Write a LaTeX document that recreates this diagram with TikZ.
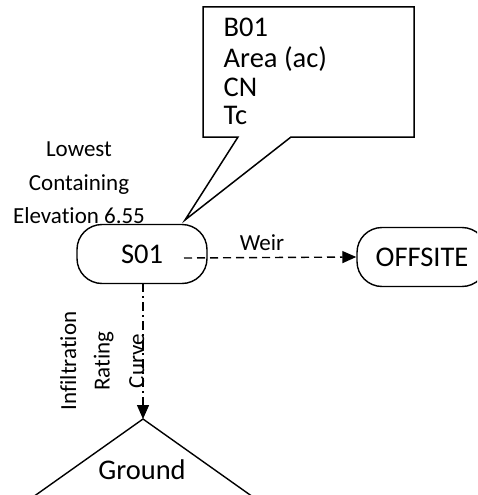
\documentclass[tikz,border=0pt]{standalone}
\usepackage{fontspec}
\setmainfont{Carlito}[Ligatures={NoCommon,NoRequired,NoContextual}]
\usetikzlibrary{arrows.meta}
\begin{document}
\begin{tikzpicture}[x=1pt,y=-1pt,
  line width=1.4pt,
  bigtxt/.style={font=\fontsize{28.5}{34}\selectfont},
  smalltxt/.style={font=\fontsize{23}{28}\selectfont},
  roundbox/.style={draw,rounded corners=25pt,minimum width=130pt,minimum height=59pt,inner sep=0pt,bigtxt},
  tip/.style={-{Triangle[length=14pt,width=12pt]}},
  weirline/.style={tip,dash pattern=on 8pt off 5pt},
  infline/.style={tip,dash pattern=on 9pt off 4pt on 2pt off 4pt}
]
\useasboundingbox (0,0) rectangle (477,495);
\begin{scope}
\clip (0,0) rectangle (477,495);
% callout
\draw[line width=1.5pt] (203,7) -- (414,7) -- (414,137) -- (291,137) -- (185,220) -- (238,137) -- (203,137) -- cycle;
\node[bigtxt,anchor=base west,inner sep=0pt] (b1) at (223,37) {B01};
\node[bigtxt,anchor=base west,inner sep=0pt] (b2) at (223,67) {Area (ac)};
\node[bigtxt,anchor=base west,inner sep=0pt] (b3) at (223,96) {CN};
\node[bigtxt,anchor=base west,inner sep=0pt] (b4) at (223,124) {Tc};
% left label
\node[smalltxt,anchor=base,inner sep=0pt] (l1) at (79,156) {Lowest};
\node[smalltxt,anchor=base,inner sep=0pt] (l2) at (79,190) {Containing};
\node[smalltxt,anchor=base,inner sep=0pt] (l3) at (79,223) {Elevation 6.55};
% nodes
\node[roundbox] (s01) at (142,254) {S01};
\node[roundbox] (off) at (422,257) {OFFSITE};
% ground
\coordinate (apex) at (143,419);
\draw (33,497) -- (apex) -- (253,497);
\node[bigtxt,anchor=base,inner sep=0pt] (gnd) at (142,479) {Ground};
% connectors
\coordinate (wstart) at (184,258);
\draw[weirline] (wstart) -- (off.west);
\node[smalltxt,anchor=base,inner sep=0pt] (weir) at (262,250) {Weir};
\draw[infline] (143,283) -- (apex);
\node[smalltxt,anchor=base,inner sep=0pt,rotate=90] (i1) at (76,361) {Infiltration};
\node[smalltxt,anchor=base,inner sep=0pt,rotate=90] (i2) at (109.5,361) {Rating};
\node[smalltxt,anchor=base,inner sep=0pt,rotate=90] (i3) at (144,361) {Curve};
\end{scope}
\end{tikzpicture}
\end{document}
